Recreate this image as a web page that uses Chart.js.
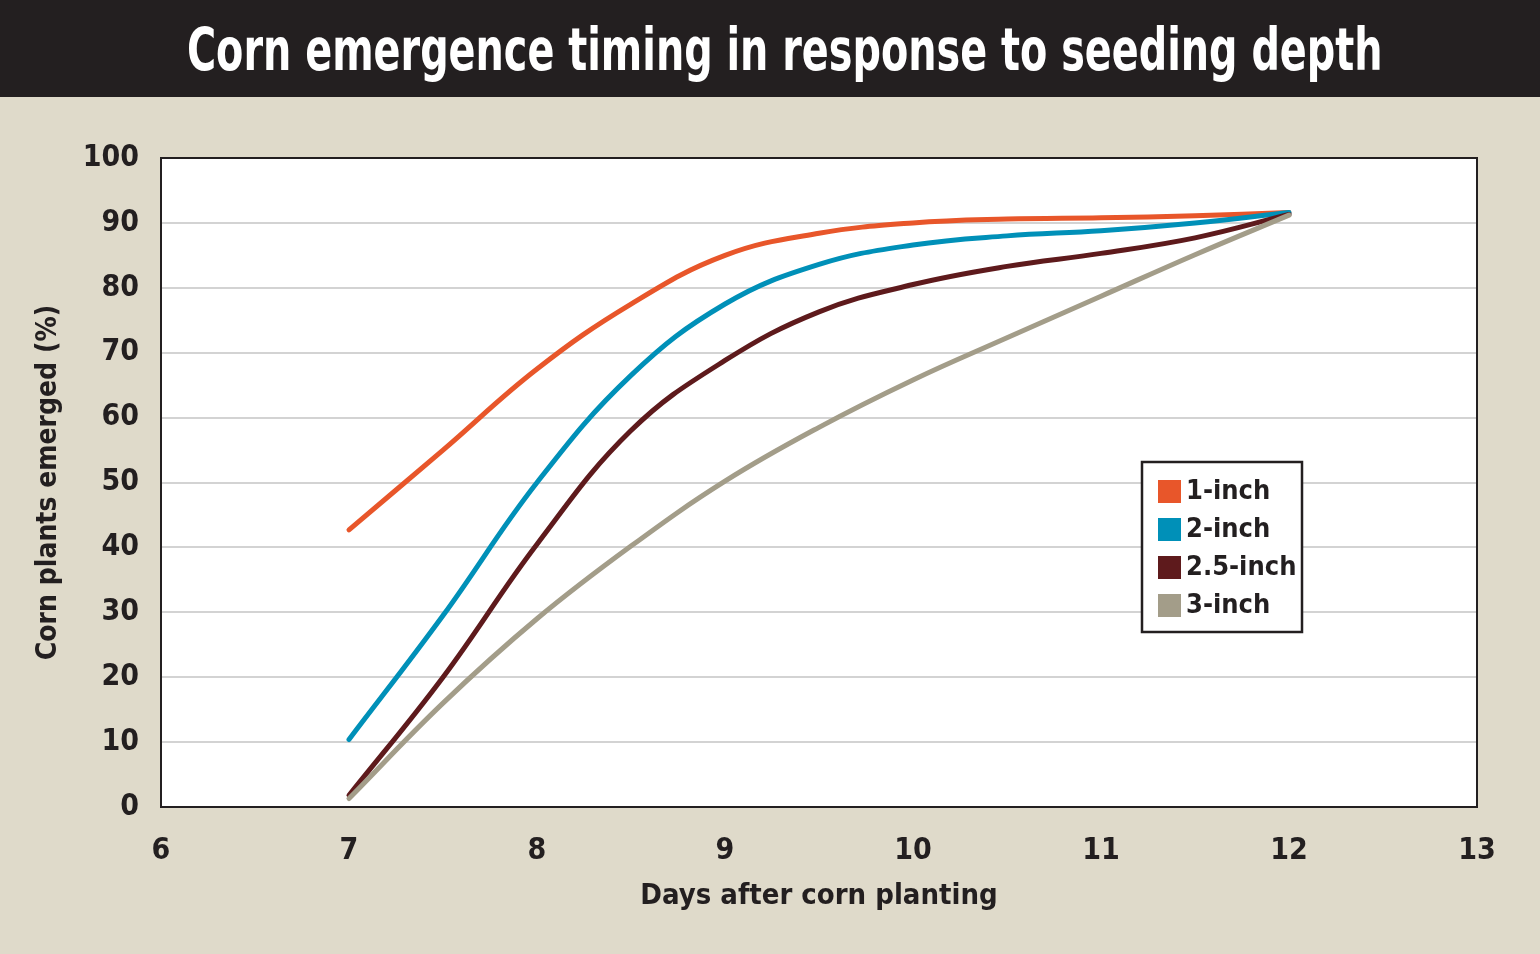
<!DOCTYPE html>
<html>
<head>
<meta charset="utf-8">
<script src="https://cdn.jsdelivr.net/npm/chart.js@4.4.1/dist/chart.umd.min.js"></script>
<style>
  html, body { margin: 0; padding: 0; background: #dfdaca; }
  #head {
    height: 97px; background: #231f20; color: #fff; text-align: center; overflow: hidden;
  }
  #head span {
    display: inline-block; white-space: nowrap;
    font-family: "DejaVu Sans Condensed", sans-serif;
    font-weight: bold; font-size: 58px; line-height: 100px;
    transform-origin: center center;
  }
  #wrap { width: 1540px; height: 857px; }
</style>
</head>
<body>
<div id="head"><span id="ttl">Corn emergence timing in response to seeding depth</span></div>
<div id="wrap"><canvas id="myChart" width="1540" height="857"></canvas></div>
<script>
var days = [7, 7.5, 8, 8.5, 9, 9.5, 10, 10.5, 11, 11.5, 12];
var oneInch = [42.7, 55.0, 67.5, 77.5, 85.0, 88.4, 90.0, 90.6, 90.8, 91.1, 91.6];
var twoInch = [10.4, 29.5, 50.0, 66.5, 77.5, 83.6, 86.6, 88.0, 88.8, 90.0, 91.6];
var twoHalfInch = [1.8, 20.0, 40.5, 58.0, 68.8, 76.3, 80.5, 83.3, 85.3, 87.7, 91.3];
var threeInch = [1.3, 16.0, 29.0, 40.2, 50.2, 58.5, 65.8, 72.3, 78.7, 85.1, 91.2];
var yTicks = [0, 10, 20, 30, 40, 50, 60, 70, 80, 90, 100];

var labels = ['1-inch', '2-inch', '2.5-inch', '3-inch'];
var colors = ['#e8562a', '#0090b8', '#5e1a1c', '#a39d89'];
var FONT = '"DejaVu Sans Condensed", sans-serif';

// squeeze the title to the width it has in the picture
var ttl = document.getElementById('ttl');
ttl.style.transform = 'scaleX(' + (1196 / ttl.offsetWidth) + ')';

function toPoints(vals) {
    return days.map(function (d, i) { return { x: d, y: vals[i] }; });
}

var framePlugin = {
    id: 'frame',
    beforeDraw: function (chart) {
        var a = chart.chartArea;
        chart.ctx.fillStyle = '#fff';
        chart.ctx.fillRect(a.left, a.top, a.right - a.left, a.bottom - a.top);
    },
    afterDraw: function (chart) {
        var c = chart.ctx, a = chart.chartArea;
        c.save();
        c.strokeStyle = '#231f20';
        c.lineWidth = 2;
        c.strokeRect(a.left, a.top, a.right - a.left, a.bottom - a.top);

        // legend box
        var bx = a.right - 335, by = a.top + 304, bw = 160, bh = 170;
        c.fillStyle = '#fff';
        c.fillRect(bx, by, bw, bh);
        c.lineWidth = 2.5;
        c.strokeRect(bx, by, bw, bh);
        c.font = 'bold 27px ' + FONT;
        c.textBaseline = 'middle';
        labels.forEach(function (lab, i) {
            var cy = by + 29 + i * 38;
            c.fillStyle = colors[i];
            c.fillRect(bx + 16, cy - 11, 23, 23);
            c.fillStyle = '#231f20';
            c.fillText(lab, bx + 44, cy + 1);
        });
        c.restore();
    }
};

var ctx = document.getElementById('myChart').getContext('2d');
var chart = new Chart(ctx, {
    type: 'line',
    data: {
        // drawn back to front: 1-inch at the bottom, 3-inch on top
        datasets: [threeInch, twoHalfInch, twoInch, oneInch].map(function (v, j) {
            var i = 3 - j;
            return {
                label: labels[i],
                data: toPoints(v),
                borderColor: colors[i],
                backgroundColor: colors[i],
                borderWidth: 5,
                borderCapStyle: 'round',
                pointRadius: 0,
                tension: 0.4,
                fill: false
            };
        })
    },
    options: {
        responsive: false,
        animation: false,
        layout: { padding: { top: 61, right: 63, left: 0, bottom: 0 } },
        plugins: {
            legend: { display: false },
            tooltip: { enabled: false }
        },
        scales: {
            x: {
                type: 'linear', min: 6, max: 13,
                afterFit: function (s) { s.height = 147; },
                grid: { display: false, drawTicks: false },
                border: { display: false },
                ticks: { stepSize: 1, padding: 26, color: '#231f20', font: { family: FONT, size: 30, weight: 'bold' } },
                title: { display: true, text: 'Days after corn planting', color: '#231f20', padding: { top: 0, bottom: 40 },
                         font: { family: FONT, size: 29, weight: 'bold' } }
            },
            y: {
                min: 0, max: 100,
                afterFit: function (s) { s.width = 161; },
                afterBuildTicks: function (s) { s.ticks = yTicks.map(function (v) { return { value: v }; }); },
                grid: { color: '#d3d3d3', lineWidth: 2, drawTicks: false },
                border: { display: false },
                ticks: { padding: 22, color: '#231f20', font: { family: FONT, size: 30, weight: 'bold' } },
                title: { display: true, text: 'Corn plants emerged (%)', color: '#231f20', padding: { top: 32, bottom: 0 },
                         font: { family: FONT, size: 28, weight: 'bold' } }
            }
        }
    },
    plugins: [framePlugin]
});
</script>
</body>
</html>
